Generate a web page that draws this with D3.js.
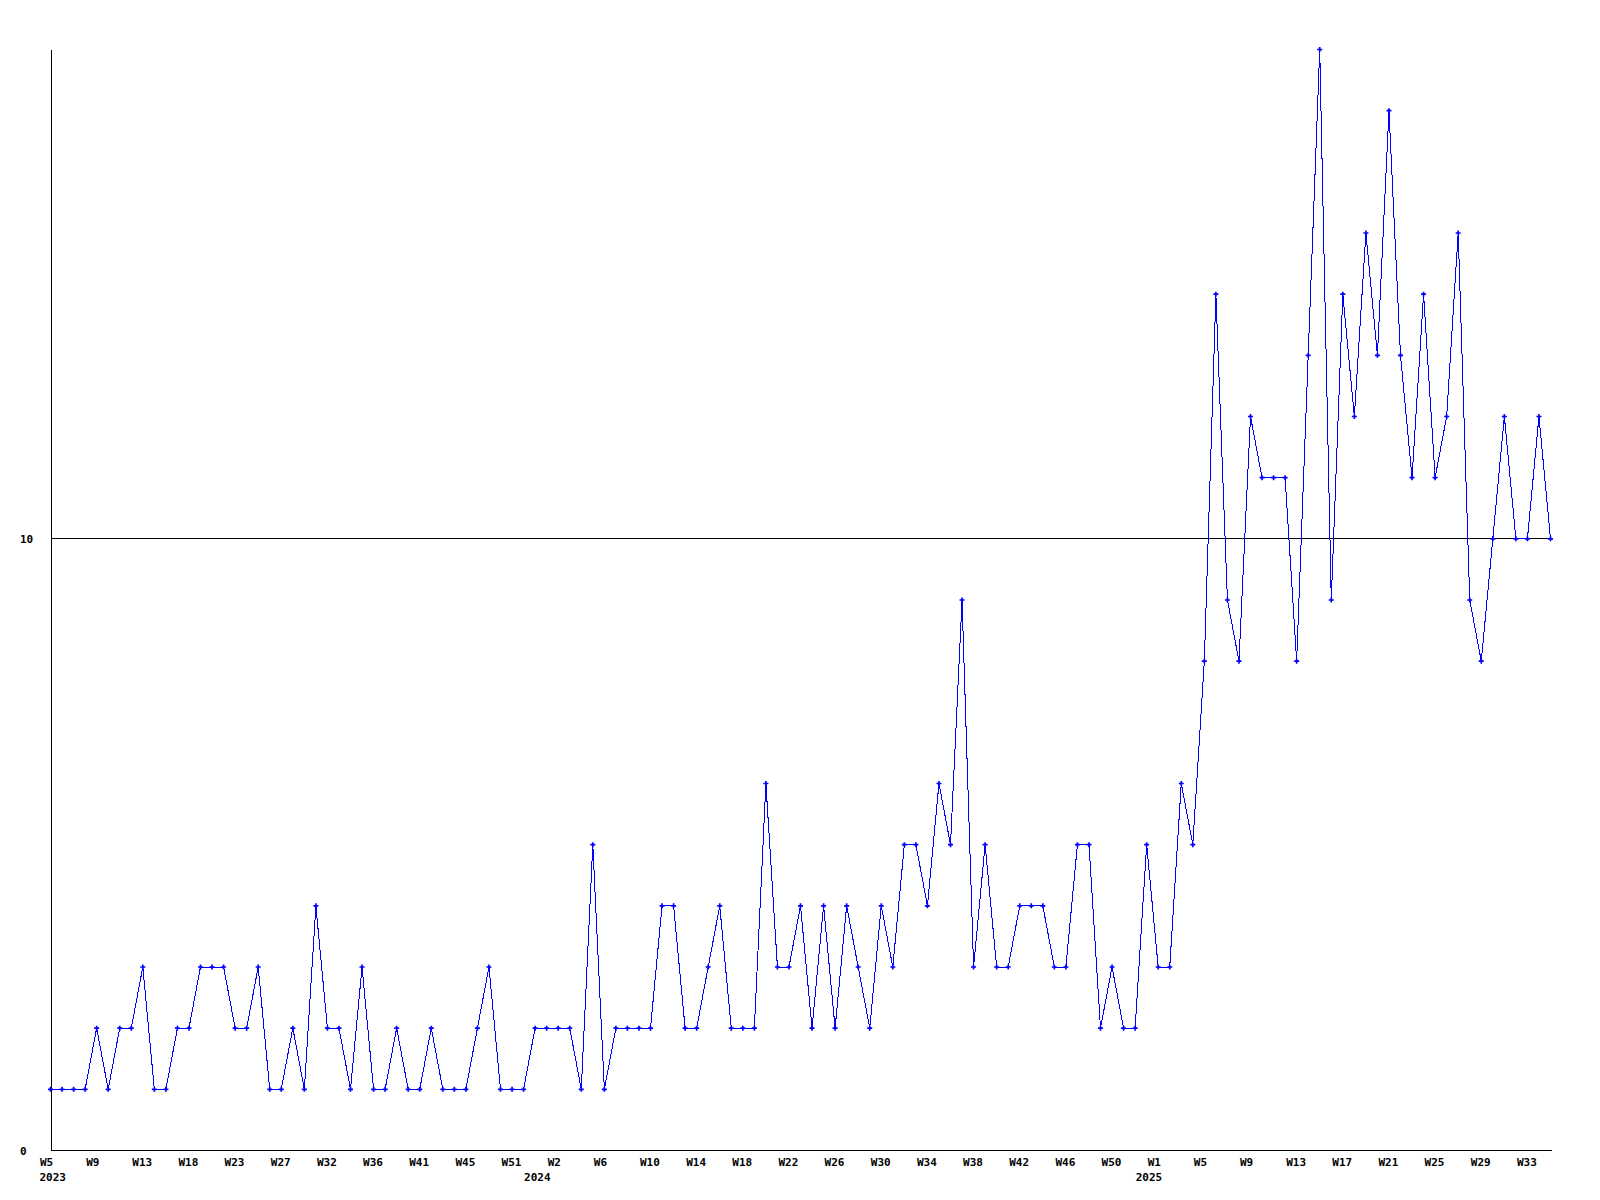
<!DOCTYPE html>
<html>
<head>
<meta charset="utf-8">
<script src="https://cdn.jsdelivr.net/npm/d3@7"></script>
<style>
  html, body { margin: 0; padding: 0; background: #ffffff; }
  svg { display: block; }
  text { font-family: "DejaVu Sans Mono", monospace; font-weight: bold; font-size: 11px; fill: #000; }
</style>
</head>
<body>
<svg id="chart" width="1600" height="1200"></svg>
<script>
// Weekly values, 2023 W5 .. 2025 W35
const values = [
  1,1,1,1,2,1,2,2,3,1,
  1,2,2,3,3,3,2,2,3,1,
  1,2,1,4,2,2,1,3,1,1,
  2,1,1,2,1,1,1,2,3,1,
  1,1,2,2,2,2,1,5,1,2,
  2,2,2,4,4,2,2,3,4,2,
  2,2,6,3,3,4,2,4,2,4,
  3,2,4,3,5,5,4,6,5,9,
  3,5,3,3,4,4,4,3,3,5,
  5,2,3,2,2,5,3,3,6,5,
  8,14,9,8,12,11,11,11,8,13,
  18,9,14,12,15,13,17,13,11,14,
  11,12,15,9,8,10,12,10,10,12,
  10
];
// Labels shown under every 4th point
const tickLabels = ["W5","W9","W13","W18","W23","W27","W32","W36","W41","W45","W51",
  "W2","W6","W10","W14","W18","W22","W26","W30","W34","W38","W42","W46","W50",
  "W1","W5","W9","W13","W17","W21","W25","W29","W33"];
const tickEvery = 4;
// Year labels and the point index where each year starts
const years = ["2023","2024","2025"];
const yearStart = [0, 42, 95];
// Y axis labels
const yTicks = [0, 10];
const yMax = 18;

const svg = d3.select("#chart");
const idx = d3.range(values.length);

const x = d3.scalePoint().domain(idx).range([50.5, 1550.5]);
const y = d3.scaleLinear().domain([0, yMax]).range([1150.5, 49.5]);

// reference line at 10
svg.append("line")
  .attr("x1", x(0)).attr("x2", x(values.length - 1))
  .attr("y1", y(10)).attr("y2", y(10))
  .attr("stroke", "#000").attr("stroke-width", 1)
  .attr("shape-rendering", "crispEdges");

// y axis
const yAxis = d3.axisLeft(y).tickValues(yTicks).tickSize(0).tickSizeOuter(0).tickFormat(d3.format("d"));
const gy = svg.append("g").attr("transform", `translate(${x(0)},0)`).call(yAxis);
gy.select(".domain").attr("stroke", "#000").attr("shape-rendering", "crispEdges");
gy.selectAll(".tick text")
  .attr("x", 20 - x(0)).attr("dy", "0.32em")
  .attr("text-anchor", "start")
  .attr("font-family", null).attr("font-size", null);

// x axis
const tickIdx = tickLabels.map((_, i) => i * tickEvery);
const xAxis = d3.axisBottom(x).tickValues(tickIdx).tickSize(0).tickSizeOuter(0)
  .tickFormat(d => tickLabels[d / tickEvery]);
const gx = svg.append("g").attr("transform", `translate(0,${y(0)})`).call(xAxis);
gx.select(".domain").attr("stroke", "#000").attr("shape-rendering", "crispEdges")
  .attr("d", `M${x(0)},0H${x(values.length - 1) + 1}`);
gx.selectAll(".tick text")
  .attr("text-anchor", "start").attr("x", -11).attr("y", 15.5).attr("dy", null)
  .attr("font-family", null).attr("font-size", null);

// year labels
svg.append("g").selectAll("text").data(years).join("text")
  .attr("x", (d, i) => x(yearStart[i]) - 11)
  .attr("y", y(0) + 30.5)
  .attr("text-anchor", "start")
  .text(d => d);

// data line
const line = d3.line().x((d, i) => x(i)).y(d => y(d));
svg.append("path").datum(values)
  .attr("d", line)
  .attr("fill", "none")
  .attr("stroke", "#0000ff")
  .attr("stroke-width", 1)
  .attr("shape-rendering", "crispEdges");

// markers
const sym = d3.symbol().type(d3.symbolCross).size(14);
svg.append("g").selectAll("path").data(values).join("path")
  .attr("transform", (d, i) => `translate(${x(i)},${y(d)})`)
  .attr("d", sym)
  .attr("fill", "#0000ff");
</script>
</body>
</html>
